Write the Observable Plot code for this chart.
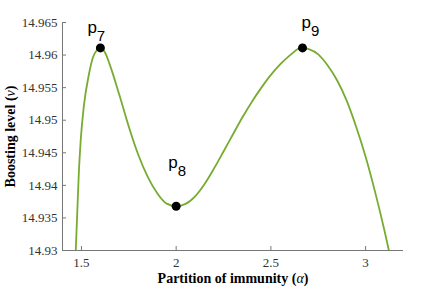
<!DOCTYPE html>
<html>
<head>
<meta charset="utf-8">
<script src="https://cdn.jsdelivr.net/npm/d3@7"></script>
<script src="https://cdn.jsdelivr.net/npm/@observablehq/plot@0.6"></script>
<style>
  html, body { margin: 0; padding: 0; background: #fff; }
  svg { display: block; }
</style>
</head>
<body>
<div id="chart"></div>
<script>
// Curve samples
const alpha = [1.470, 1.479, 1.486, 1.496, 1.512, 1.540, 1.561, 1.580, 1.600, 1.625, 1.650, 1.700, 1.750, 1.800, 1.850, 1.900, 1.950, 2.000, 2.050, 2.100, 2.150, 2.200, 2.250, 2.300, 2.350, 2.400, 2.450, 2.500, 2.550, 2.600, 2.650, 2.667, 2.700, 2.750, 2.800, 2.850, 2.900, 2.950, 3.000, 3.050, 3.100, 3.150];
const nu    = [14.9300, 14.93665, 14.94177, 14.94689, 14.9520, 14.95713, 14.95967, 14.9607, 14.9611, 14.96035, 14.9585, 14.9539, 14.9490, 14.9447, 14.9413, 14.9388, 14.9372, 14.9368, 14.93715, 14.9383, 14.9402, 14.9426, 14.9452, 14.94785, 14.95045, 14.95285, 14.9550, 14.95695, 14.9586, 14.95995, 14.96103, 14.9611, 14.9609, 14.9601, 14.9584, 14.9561, 14.9530, 14.9490, 14.9444, 14.9390, 14.9330, 14.9263];

// Marked points
const peakAlpha  = [1.600, 2.000, 2.667];
const peakNu     = [14.9611, 14.9368, 14.9611];
const peakLabels = ["p7", "p8", "p9"];

// Axes
const xDomain = [1.4, 3.2];
const yDomain = [14.93, 14.965];
const xTicks = [1.5, 2, 2.5, 3];
const yTicks = [14.93, 14.935, 14.94, 14.945, 14.95, 14.955, 14.96, 14.965];
const xTitle = "Partition of immunity (α)";
const yTitle = "Boosting level (ν)";

const curve = alpha.map((a, i) => ({a, v: nu[i]}));
const peaks = peakAlpha.map((a, i) => ({a, v: peakNu[i], label: peakLabels[i]}));
const labelOffset = {p7: [-13, -20], p8: [-8, -44], p9: [-1, -25.5]};

const serif = "'Liberation Serif', 'Times New Roman', serif";
const sans = "'Liberation Sans', Arial, sans-serif";

const chart = Plot.plot({
  width: 445,
  height: 289,
  marginLeft: 62,
  marginRight: 42,
  marginTop: 22,
  marginBottom: 39,
  style: {fontFamily: serif, background: "#fff"},
  x: {domain: xDomain},
  y: {domain: yDomain},
  marks: [
    Plot.axisY({ticks: yTicks, tickSize: -4, tickPadding: 9, tickFormat: d => String(+d.toFixed(3)), fontSize: 13, color: "#333", stroke: "#777", label: null}),
    Plot.axisX({ticks: xTicks, tickSize: -4, tickPadding: 11, tickFormat: d => String(d), fontSize: 13, color: "#333", stroke: "#777", label: null}),
    Plot.ruleX([xDomain[0]], {stroke: "#777"}),
    Plot.ruleY([yDomain[0]], {stroke: "#777"}),
    Plot.line(curve, {x: "a", y: "v", stroke: "#77AC30", strokeWidth: 1.8, curve: "monotone-x", clip: true}),
    Plot.dot(peaks, {x: "a", y: "v", r: 4.5, fill: "black"}),
    ...peakLabels.map(l => Plot.text(peaks.filter(d => d.label === l), {x: "a", y: "v", text: "label", textAnchor: "start", dx: labelOffset[l][0], dy: labelOffset[l][1], fontSize: 17, fontFamily: sans, fill: "black", className: "plabel"})),
    Plot.text([xTitle], {frameAnchor: "bottom", dy: 32, fontSize: 14, fontWeight: "bold", fill: "black", className: "xtitle"}),
    Plot.text([yTitle], {frameAnchor: "left", dx: -52, rotate: -90, fontSize: 14, fontWeight: "bold", fill: "black", className: "ytitle"})
  ]
});

const ns = "http://www.w3.org/2000/svg";
// subscripts
chart.querySelectorAll(".plabel text").forEach(t => {
  const m = t.textContent.match(/^p(\d)$/);
  if (m) {
    t.textContent = "";
    const a = document.createElementNS(ns, "tspan"); a.textContent = "p"; t.appendChild(a);
    const b = document.createElementNS(ns, "tspan"); b.textContent = m[1];
    b.setAttribute("dy", "8"); b.setAttribute("font-size", "15"); t.appendChild(b);
  }
});
document.getElementById("chart").appendChild(chart);
// italic greek letters in titles, re-centred after measuring
chart.querySelectorAll(".xtitle text, .ytitle text").forEach(t => {
  const m = t.textContent.match(/^(.*\()(.)(\))$/);
  if (m) {
    t.textContent = "";
    const a = document.createElementNS(ns, "tspan"); a.textContent = m[1]; t.appendChild(a);
    const b = document.createElementNS(ns, "tspan"); b.textContent = m[2]; b.setAttribute("font-style", "italic"); b.setAttribute("font-weight", "normal"); t.appendChild(b);
    const c = document.createElementNS(ns, "tspan"); c.textContent = m[3]; t.appendChild(c);
    const len = t.getComputedTextLength();
    t.setAttribute("text-anchor", "start");
    t.setAttribute("x", -len / 2);
  }
});
</script>
</body>
</html>
